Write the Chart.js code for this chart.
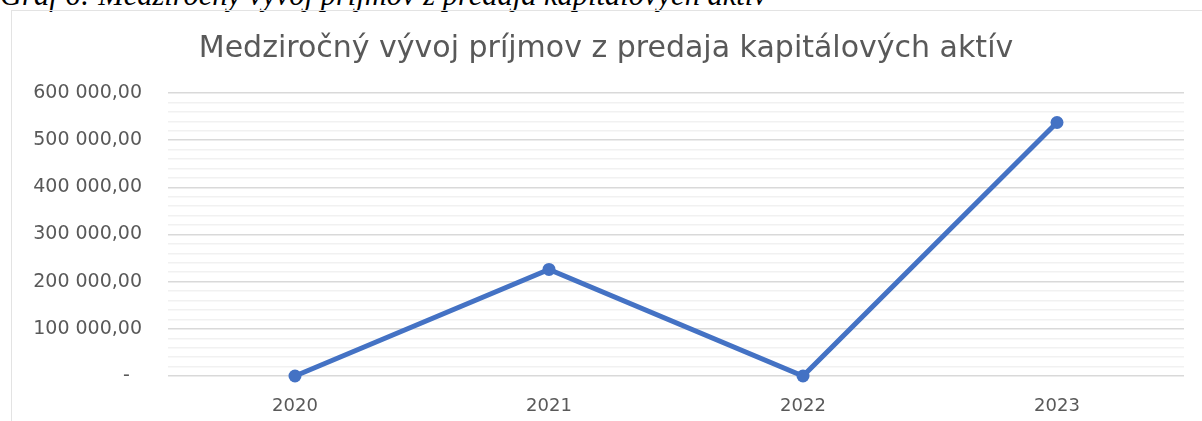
<!DOCTYPE html>
<html>
<head>
<meta charset="utf-8">
<script src="https://cdn.jsdelivr.net/npm/chart.js@4"></script>
<style>
  body { margin: 0; background: #fff; width: 1202px; height: 421px; overflow: hidden; position: relative; }
  #caption {
    position: absolute; left: 0; top: -20px; white-space: nowrap;
    font: italic 30.5px "Liberation Serif", serif; line-height: 30px; color: #000;
  }
  #frame {
    position: absolute; left: 11px; top: 10px; width: 1300px; height: 500px;
    border: 1px solid #e3e3e3;
  }
  #chart { position: absolute; left: 0; top: 0; }
</style>
</head>
<body>
<div id="caption">Graf 6: Medziročný vývoj príjmov z predaja kapitálových aktív</div>
<div id="frame"></div>
<canvas id="chart" width="1202" height="421"></canvas>
<script>
// Údaje grafu
const years = ["2020", "2021", "2022", "2023"];
const incomeValues = [0, 226000, 0, 537500];
const yTickLabels = ["-\u00a0\u00a0", "100 000,00", "200 000,00", "300 000,00", "400 000,00", "500 000,00", "600 000,00"];

const textColor = "#595959";
const lineColor = "#4472C4";

const ctx = document.getElementById("chart").getContext("2d");
const chart = new Chart(ctx, {
  type: "line",
  data: {
    labels: years,
    datasets: [
      {
        label: "Príjmy",
        data: incomeValues,
        borderColor: lineColor,
        backgroundColor: lineColor,
        borderWidth: 5,
        pointRadius: 6.5,
        pointBackgroundColor: lineColor,
        pointBorderWidth: 0,
        tension: 0,
        clip: false,
      },
    ],
  },
  options: {
    responsive: false,
    animation: false,
    layout: { padding: { left: 28, right: 18, top: 0, bottom: 0 } },
    plugins: {
      legend: { display: false },
      tooltip: { enabled: false },
      title: {
        display: true,
        text: "Medziročný vývoj príjmov z predaja kapitálových aktív",
        color: textColor,
        font: { family: "DejaVu Sans", size: 30, weight: "normal" },
        padding: { top: 31, bottom: 26 },
      },
    },
    scales: {
      x: {
        offset: true,
        grid: { display: false },
        border: { display: false },
        ticks: {
          color: textColor,
          font: { family: "DejaVu Sans", size: 18 },
          padding: 12,
        },
        afterFit: (scale) => { scale.height = 45; },
      },
      y: {
        min: 0,
        max: 600000,
        border: { display: false },
        grid: {
          drawTicks: false,
          lineWidth: 1.5,
          color: (c) => (c.tick.value % 100000 === 0 ? "#d9d9d9" : "#f1f1f1"),
        },
        ticks: {
          stepSize: 20000,
          autoSkip: false,
          color: textColor,
          font: { family: "DejaVu Sans", size: 19 },
          padding: 26,
          callback: (v) => (v % 100000 === 0 ? yTickLabels[v / 100000] : ""),
        },
        afterFit: (scale) => { scale.width = 140; },
      },
    },
  },
});
</script>
</body>
</html>
